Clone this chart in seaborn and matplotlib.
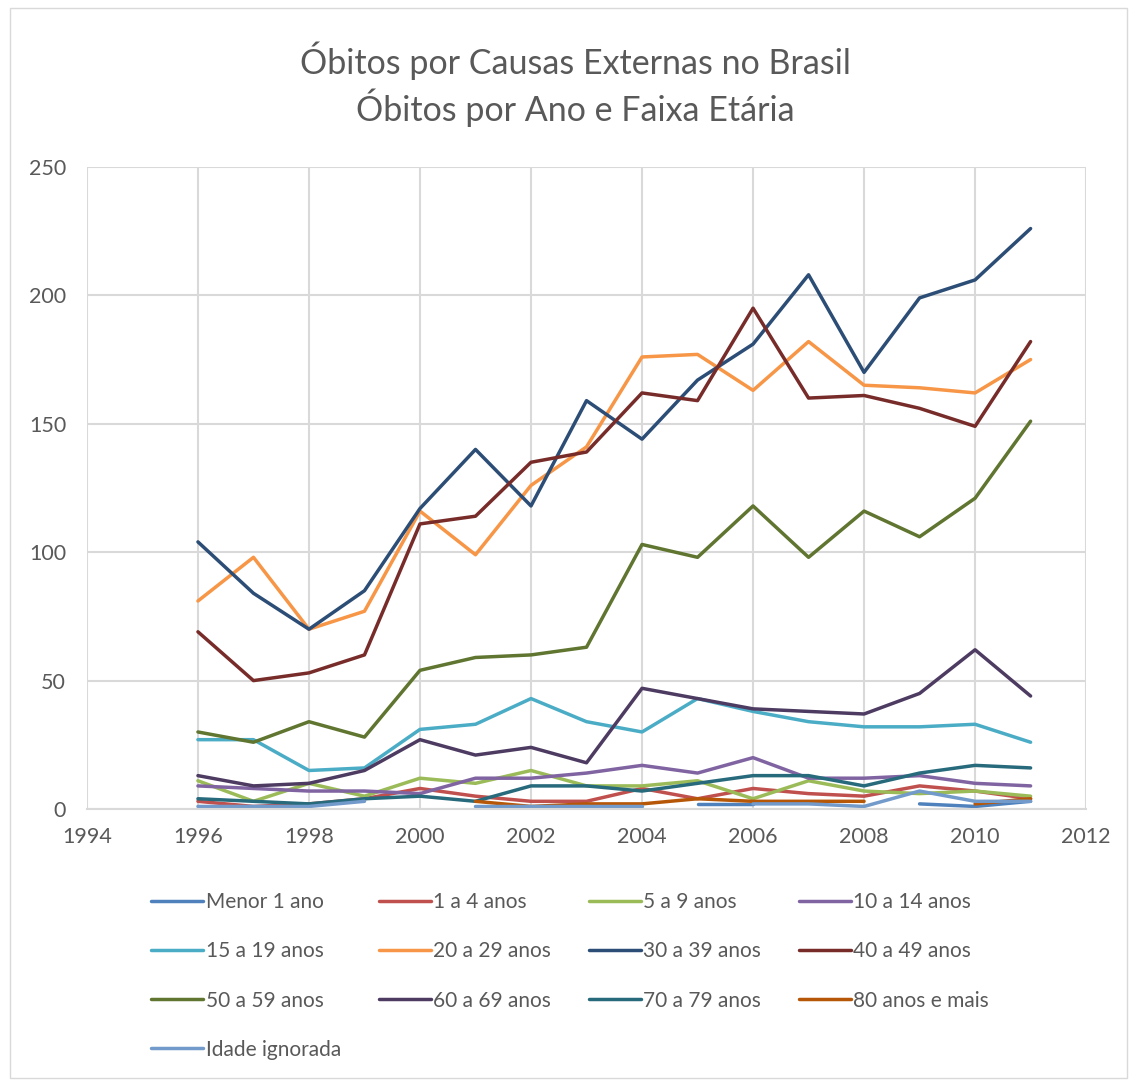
import numpy as np
import pandas as pd
import seaborn as sns
import matplotlib.pyplot as plt
from matplotlib.patches import Rectangle

nan = np.nan

anos = list(range(1996, 2012))

# obitos por faixa etaria
menor_1 = [nan, nan, nan, nan, nan, nan, nan, nan, nan, 2, 2, nan, nan, 2, 1, 3]
a1_4 = [3, 1, 2, 4, 8, 5, 3, 3, 8, 4, 8, 6, 5, 9, 7, 4]
a5_9 = [11, 3, 10, 5, 12, 10, 15, 9, 9, 11, 4, 11, 7, 6, 7, 5]
a10_14 = [9, 8, 7, 7, 6, 12, 12, 14, 17, 14, 20, 12, 12, 13, 10, 9]
a15_19 = [27, 27, 15, 16, 31, 33, 43, 34, 30, 43, 38, 34, 32, 32, 33, 26]
a20_29 = [81, 98, 70, 77, 116, 99, 126, 141, 176, 177, 163, 182, 165, 164, 162, 175]
a30_39 = [104, 84, 70, 85, 117, 140, 118, 159, 144, 167, 181, 208, 170, 199, 206, 226]
a40_49 = [69, 50, 53, 60, 111, 114, 135, 139, 162, 159, 195, 160, 161, 156, 149, 182]
a50_59 = [30, 26, 34, 28, 54, 59, 60, 63, 103, 98, 118, 98, 116, 106, 121, 151]
a60_69 = [13, 9, 10, 15, 27, 21, 24, 18, 47, 43, 39, 38, 37, 45, 62, 44]
a70_79 = [4, 3, 2, 4, 5, 3, 9, 9, 7, 10, 13, 13, 9, 14, 17, 16]
a80_mais = [nan, nan, nan, nan, nan, 3, 1, 2, 2, 4, 3, 3, 3, nan, 2, 4]
ignorada = [1, 1, 1, 3, nan, 1, 1, 1, 1, nan, 2, 2, 1, 7, 3, 3]

faixas = ["Menor 1 ano", "1 a 4 anos", "5 a 9 anos", "10 a 14 anos",
          "15 a 19 anos", "20 a 29 anos", "30 a 39 anos", "40 a 49 anos",
          "50 a 59 anos", "60 a 69 anos", "70 a 79 anos", "80 anos e mais",
          "Idade ignorada"]
series = [menor_1, a1_4, a5_9, a10_14, a15_19, a20_29, a30_39, a40_49,
          a50_59, a60_69, a70_79, a80_mais, ignorada]
cores = ["#4F81BD", "#C0504D", "#9BBB59", "#8064A2", "#4BACC6", "#F79646",
         "#2C4D75", "#772C2A", "#5F7530", "#4D3B62", "#276A7C", "#B65708",
         "#729ACA"]

# tabela longa, com um id de segmento para deixar buracos onde falta dado
linhas = []
for nome, valores in zip(faixas, series):
    seg = 0
    for ano, v in zip(anos, valores):
        if np.isnan(v):
            seg += 1
            continue
        linhas.append({"ano": ano, "obitos": v, "faixa": nome, "seg": seg})
df = pd.DataFrame(linhas)

sns.set_style("white")
plt.rcParams["font.family"] = ["Lato", "DejaVu Sans"]
cinza = "#595959"

fig = plt.figure(figsize=(11.29, 10.81), dpi=100)
ax = fig.add_axes([0.077, 0.2516, 0.885, 0.594])

sns.lineplot(data=df, x="ano", y="obitos", hue="faixa", hue_order=faixas,
             units="seg", estimator=None, palette=cores, linewidth=2.5,
             ax=ax, legend=True)

ax.set_xlim(1994, 2012)
ax.set_ylim(0, 250)
ax.set_xticks(range(1994, 2013, 2))
ax.set_yticks(range(0, 251, 50))
ax.grid(True, color="#d9d9d9", linewidth=1.5)
ax.set_axisbelow(True)
for s in ["top", "right", "left"]:
    ax.spines[s].set_visible(False)
ax.spines["bottom"].set_color("#d9d9d9")
ax.spines["bottom"].set_linewidth(1.5)
ax.tick_params(axis="both", length=0, labelsize=15.5, colors=cinza)
ax.tick_params(axis="x", pad=13)
ax.tick_params(axis="y", pad=15)
ax.set_xlabel("")
ax.set_ylabel("")

fig.text(0.51, 0.922, "Óbitos por Causas Externas no Brasil\nÓbitos por Ano e Faixa Etária",
         ha="center", va="center", fontsize=24.5, color=cinza, linespacing=1.26)

# legenda em 4 colunas, preenchida por linha como no original
handles, labels = ax.get_legend_handles_labels()
ax.get_legend().remove()
ordem = [0, 4, 8, 12, 1, 5, 9, 2, 6, 10, 3, 7, 11]
leg = fig.legend([handles[i] for i in ordem], [labels[i] for i in ordem],
                 ncol=4, loc="upper center", bbox_to_anchor=(0.505, 0.192),
                 frameon=False, fontsize=15, handlelength=2.5,
                 handletextpad=0.12, columnspacing=1.8, labelspacing=1.4)
for t in leg.get_texts():
    t.set_color(cinza)

fig.patches.append(Rectangle((0.009, 0.003), 0.989, 0.99, transform=fig.transFigure,
                             fill=False, edgecolor="#d9d9d9", linewidth=1))

fig.savefig("out.png", dpi=100, facecolor="white")
